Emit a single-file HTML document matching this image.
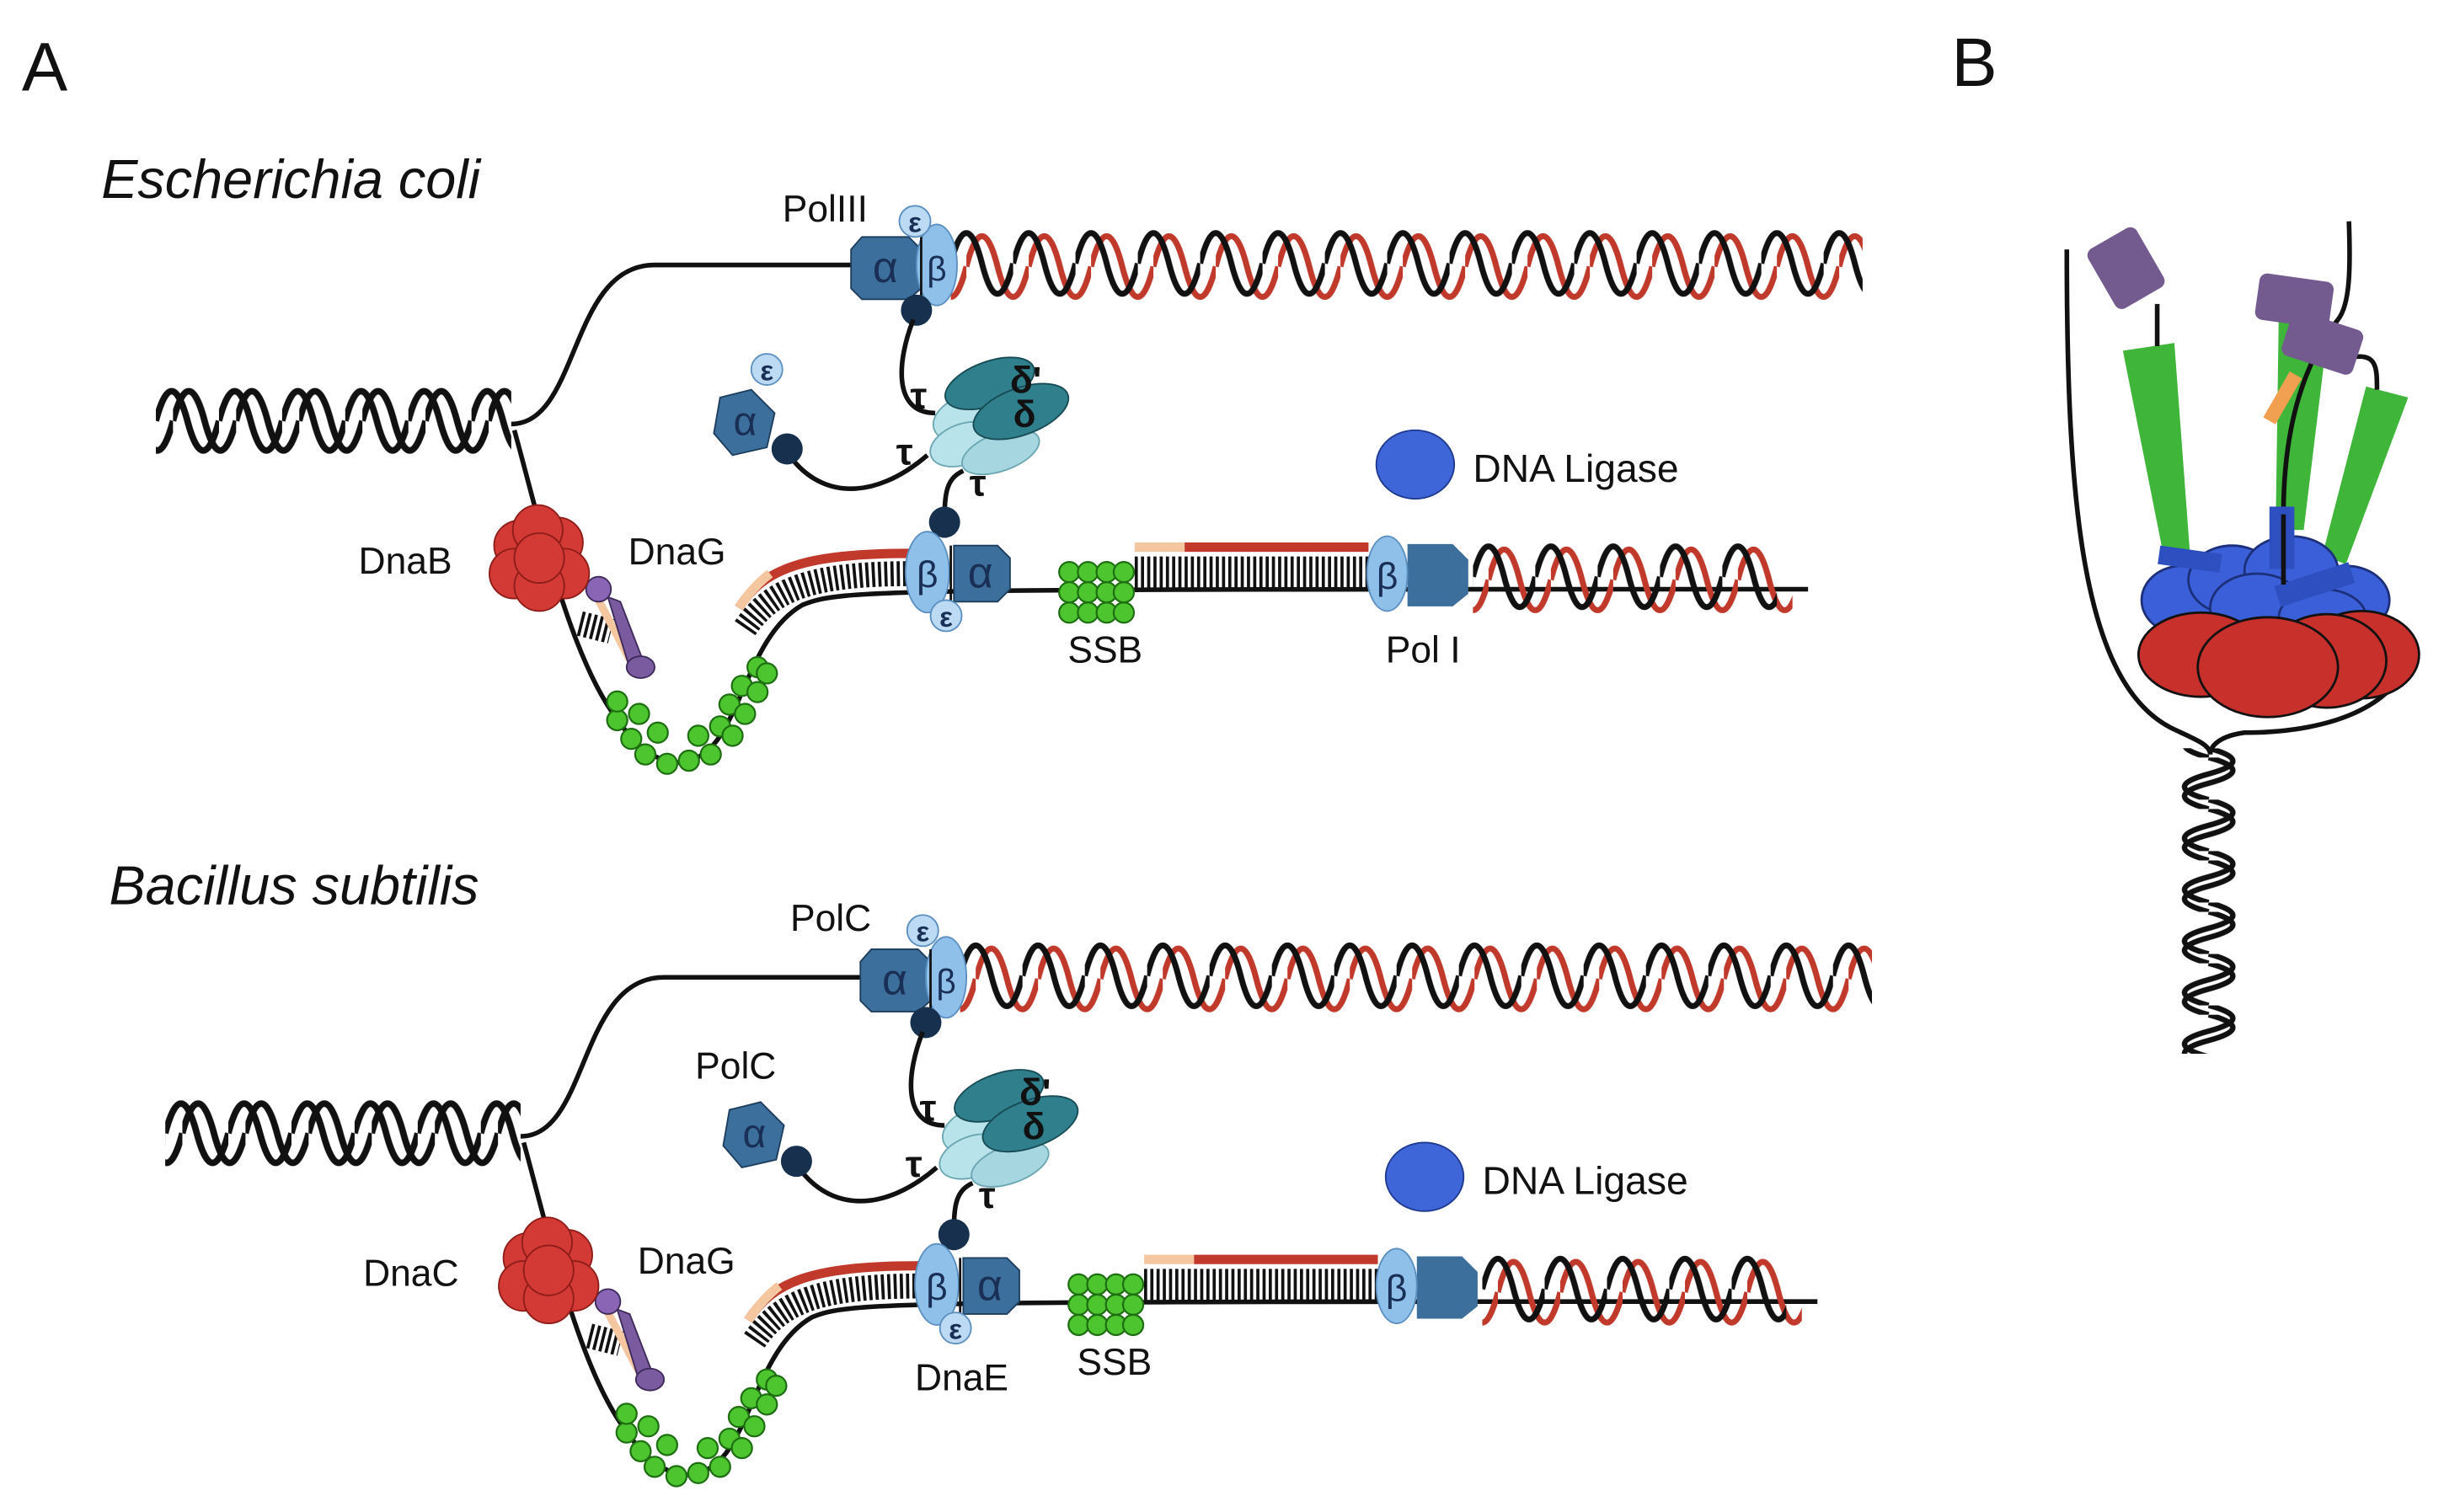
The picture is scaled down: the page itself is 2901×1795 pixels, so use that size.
<!DOCTYPE html>
<html><head><meta charset="utf-8"><style>html,body{margin:0;padding:0;background:#fff}svg{display:block}text{font-family:"Liberation Sans",sans-serif}</style></head>
<body>
<svg width="2901" height="1795" viewBox="0 0 1568 970" preserveAspectRatio="none" xmlns="http://www.w3.org/2000/svg">
<defs>
<pattern id="hb" patternUnits="userSpaceOnUse" width="40" height="48"><path d="M0 24 Q10 -15 20 24 Q30 63 40 24" fill="none" stroke="#111" stroke-width="3.8"/></pattern>
<pattern id="hr" patternUnits="userSpaceOnUse" width="40" height="48" x="10" y="2"><path d="M0 24 Q10 -15 20 24 Q30 63 40 24" fill="none" stroke="#c0392b" stroke-width="3.8"/></pattern>
<pattern id="p1" patternUnits="userSpaceOnUse" width="40.5" height="48"><path d="M0 24 Q10.1 -14 20.25 24 Q30.4 62 40.5 24" fill="none" stroke="#111" stroke-width="4.2"/></pattern>
<pattern id="p2" patternUnits="userSpaceOnUse" width="40.5" height="48" x="11"><path d="M0 24 Q10.1 -14 20.25 24 Q30.4 62 40.5 24" fill="none" stroke="#111" stroke-width="4.2"/></pattern>
<pattern id="v1" patternUnits="userSpaceOnUse" width="33" height="40"><path d="M0 20 Q8.25 -11 16.5 20 Q24.75 51 33 20" fill="none" stroke="#111" stroke-width="3.5"/></pattern>
<pattern id="v2" patternUnits="userSpaceOnUse" width="33" height="40" x="6"><path d="M0 20 Q8.25 -11 16.5 20 Q24.75 51 33 20" fill="none" stroke="#111" stroke-width="3.5"/></pattern>
<g id="ssb"><circle r="6.5" fill="#4cc52e" stroke="#1e6e12" stroke-width="1.2"/></g>
<g id="fork">
  <g transform="translate(100,246)"><rect width="228" height="48" fill="url(#p1)"/><rect width="228" height="48" fill="url(#p2)"/></g>
  <path d="M328 272 C372 272 365 170 420 170 L555 170" fill="none" stroke="#111" stroke-width="3"/>
  <g transform="translate(610,145)"><rect width="585" height="50" fill="url(#hr)"/><rect width="585" height="48" fill="url(#hb)"/></g>
  <path d="M330 276 C345 330 365 420 395 460 C415 490 440 500 460 475 C478 450 485 405 515 388 C540 378 560 378 1160 378" fill="none" stroke="#111" stroke-width="3"/>
  <path d="M478 403 C495 378 520 368 585 368" fill="none" stroke="#111" stroke-width="16" stroke-dasharray="2 2"/>
  <path d="M474 390 C490 365 515 355 585 355" fill="none" stroke="#c0392b" stroke-width="6"/>
  <path d="M474 390 C480 381 486 374 494 368" fill="none" stroke="#f5c7a0" stroke-width="6"/>
  <path d="M728 367 L878 367" stroke="#111" stroke-width="20" stroke-dasharray="2 2"/>
  <path d="M760 351 L878 351" stroke="#c0392b" stroke-width="6"/>
  <path d="M728 351 L760 351" stroke="#f5c7a0" stroke-width="6"/>
  <g transform="translate(945,346)"><rect width="205" height="50" fill="url(#hr)"/><rect width="195" height="48" fill="url(#hb)"/></g>
  <path d="M903 349 L932 349 L942 359 L942 381 L932 389 L903 389 Z" fill="#3c6f9b"/>
  <ellipse cx="890" cy="368" rx="13" ry="24" fill="#8ec0ea" stroke="#5b8fc0"/>
  <text x="890" y="378" font-size="24" text-anchor="middle" fill="#1a2f55">β</text>
  <use href="#ssb" x="686" y="367"/><use href="#ssb" x="698" y="367"/><use href="#ssb" x="710" y="367"/><use href="#ssb" x="721" y="367"/>
  <use href="#ssb" x="686" y="380"/><use href="#ssb" x="698" y="380"/><use href="#ssb" x="710" y="380"/><use href="#ssb" x="721" y="380"/>
  <use href="#ssb" x="686" y="393"/><use href="#ssb" x="698" y="393"/><use href="#ssb" x="710" y="393"/><use href="#ssb" x="721" y="393"/>
  <use href="#ssb" x="396" y="462"/><use href="#ssb" x="405" y="474"/><use href="#ssb" x="396" y="450"/><use href="#ssb" x="414" y="484"/><use href="#ssb" x="422" y="470"/><use href="#ssb" x="428" y="490"/><use href="#ssb" x="442" y="488"/><use href="#ssb" x="456" y="484"/><use href="#ssb" x="448" y="472"/><use href="#ssb" x="462" y="466"/><use href="#ssb" x="470" y="472"/><use href="#ssb" x="468" y="452"/><use href="#ssb" x="478" y="458"/><use href="#ssb" x="476" y="440"/><use href="#ssb" x="486" y="444"/><use href="#ssb" x="486" y="428"/><use href="#ssb" x="492" y="432"/><use href="#ssb" x="410" y="458"/>
  <path d="M372 400 L392 405" stroke="#111" stroke-width="16" stroke-dasharray="2 2"/>
  <path d="M384 385 L405 425" stroke="#f5c7a0" stroke-width="5"/>
  <path d="M390 383 L398 386 L413 425 L405 432 Z" fill="#7a5ba0" stroke="#3d2a5a"/>
  <circle cx="384" cy="378" r="8" fill="#8a65b5" stroke="#3d2a5a"/>
  <ellipse cx="411" cy="428" rx="9" ry="7" fill="#7a5ba0" stroke="#3d2a5a"/>
  <g fill="#d43a35" stroke="#8e1c18" stroke-width="1">
   <circle cx="333" cy="350" r="16"/><circle cx="358" cy="348" r="16"/><circle cx="345" cy="340" r="16"/><circle cx="330" cy="368" r="16"/><circle cx="362" cy="368" r="16"/><circle cx="346" cy="376" r="16"/><circle cx="346" cy="358" r="16"/>
  </g>
  <path d="M553 152 L583 152 L591 160 L591 185 L583 192 L553 192 L546 185 L546 160 Z" fill="#3c6f9b" stroke="#1d3d5c"/>
  <text x="568" y="181" font-size="28" text-anchor="middle" fill="#1a2f55">α</text>
  <ellipse cx="601" cy="170" rx="13" ry="26" fill="#8ec0ea" stroke="#5b8fc0"/>
  <text x="601" y="180" font-size="22" text-anchor="middle" fill="#1a2f55">β</text>
  <line x1="591" y1="152" x2="591" y2="192" stroke="#111" stroke-width="1.5"/>
  <circle cx="588" cy="199" r="10" fill="#16304d"/>
  <path d="M586 205 C576 230 572 265 600 265" fill="none" stroke="#111" stroke-width="3"/>
  <ellipse cx="620" cy="268" rx="22" ry="14" fill="#b8e3ea" stroke="#6aa7b2" transform="rotate(-20 620 268)"/>
  <ellipse cx="618" cy="285" rx="22" ry="13" fill="#b8e3ea" stroke="#6aa7b2" transform="rotate(-20 618 285)"/>
  <ellipse cx="642" cy="290" rx="26" ry="12" fill="#a6d6df" stroke="#6aa7b2" transform="rotate(-20 642 290)"/>
  <ellipse cx="635" cy="246" rx="30" ry="14" fill="#2f7f8c" stroke="#174b55" transform="rotate(-20 635 246)"/>
  <ellipse cx="655" cy="264" rx="32" ry="15" fill="#2f7f8c" stroke="#174b55" transform="rotate(-20 655 264)"/>
  <text x="648" y="252" font-size="24" font-weight="bold" fill="#111" font-family="Liberation Serif">δ'</text>
  <text x="650" y="274" font-size="24" font-weight="bold" fill="#111" font-family="Liberation Serif">δ</text>
  <text x="584" y="262" font-size="24" font-weight="bold" fill="#111" font-family="Liberation Serif">τ</text>
  <text x="575" y="298" font-size="24" font-weight="bold" fill="#111" font-family="Liberation Serif">τ</text>
  <text x="622" y="318" font-size="24" font-weight="bold" fill="#111" font-family="Liberation Serif">τ</text>
  <path d="M462 255 L482 250 L497 265 L492 287 L470 292 L458 278 Z" fill="#3c6f9b" stroke="#1d3d5c"/>
  <text x="478" y="279" font-size="26" text-anchor="middle" fill="#1a2f55">α</text>
  <path d="M505 290 C525 320 560 322 595 292" fill="none" stroke="#111" stroke-width="3"/>
  <circle cx="505" cy="288" r="10" fill="#16304d"/>
  <path d="M606 345 C606 320 605 308 618 302" fill="none" stroke="#111" stroke-width="3"/>
  <circle cx="606" cy="335" r="10" fill="#16304d"/>
  <path d="M612 350 L640 350 L648 358 L648 378 L640 386 L612 386 Z" fill="#3c6f9b" stroke="#1d3d5c"/>
  <text x="629" y="377" font-size="28" text-anchor="middle" fill="#1a2f55">α</text>
  <ellipse cx="595" cy="367" rx="14" ry="26" fill="#8ec0ea" stroke="#5b8fc0"/>
  <text x="595" y="377" font-size="24" text-anchor="middle" fill="#1a2f55">β</text>
  <line x1="610" y1="350" x2="610" y2="386" stroke="#111" stroke-width="1.5"/>
  <circle cx="607" cy="395" r="10" fill="#bcdaf3" stroke="#5b8fc0"/>
  <text x="607" y="402" font-size="18" text-anchor="middle" fill="#1a2f55" font-weight="bold">ε</text>
  <ellipse cx="908" cy="298" rx="25" ry="22" fill="#3e66d8" stroke="#1f3a90"/>
  <text x="945" y="309" font-size="25" fill="#111">DNA Ligase</text>
  <text x="685" y="425" font-size="24" fill="#111">SSB</text>
</g>
</defs>

<text x="14" y="58" font-size="44" fill="#111">A</text>
<text x="1252" y="55" font-size="44" fill="#111">B</text>

<text x="65" y="127" font-size="35" font-style="italic" fill="#111">Escherichia coli</text>
<use href="#fork"/>
<circle cx="587" cy="142" r="10" fill="#bcdaf3" stroke="#5b8fc0"/>
<text x="587" y="149" font-size="18" text-anchor="middle" fill="#1a2f55" font-weight="bold">ε</text>
<circle cx="492" cy="237" r="10" fill="#bcdaf3" stroke="#5b8fc0"/>
<text x="492" y="244" font-size="18" text-anchor="middle" fill="#1a2f55" font-weight="bold">ε</text>
<text x="502" y="142" font-size="24" fill="#111">PolIII</text>
<text x="230" y="368" font-size="24" fill="#111">DnaB</text>
<text x="403" y="362" font-size="24" fill="#111">DnaG</text>
<text x="889" y="425" font-size="24" fill="#111">Pol I</text>

<text x="70" y="580" font-size="35" font-style="italic" fill="#111">Bacillus subtilis</text>
<g transform="translate(6,457)"><use href="#fork"/></g>
<circle cx="592" cy="597" r="10" fill="#bcdaf3" stroke="#5b8fc0"/>
<text x="592" y="604" font-size="18" text-anchor="middle" fill="#1a2f55" font-weight="bold">ε</text>
<text x="507" y="597" font-size="24" fill="#111">PolC</text>
<text x="446" y="692" font-size="24" fill="#111">PolC</text>
<text x="233" y="825" font-size="24" fill="#111">DnaC</text>
<text x="409" y="817" font-size="24" fill="#111">DnaG</text>
<text x="587" y="892" font-size="24" fill="#111">DnaE</text>

<!-- Panel B -->
<path d="M1326 160 C1326 320 1335 440 1395 468 C1410 475 1418 478 1418 484" fill="none" stroke="#111" stroke-width="3"/>
<path d="M1507 142 C1508 170 1508 195 1500 205" fill="none" stroke="#111" stroke-width="3"/>
<path d="M1545 420 C1540 450 1500 470 1440 470 C1425 472 1418 478 1418 484" fill="none" stroke="#111" stroke-width="3"/>
<g transform="translate(1437,480) rotate(90)"><rect width="196" height="40" fill="url(#v1)"/><rect width="196" height="40" fill="url(#v2)"/></g>
<polygon points="1362,225 1395,220 1405,355 1388,356" fill="#3fb53a"/>
<polygon points="1462,200 1495,200 1478,340 1460,340" fill="#3fb53a"/>
<polygon points="1518,248 1545,255 1505,362 1490,356" fill="#3fb53a"/>
<rect x="1460" y="238" width="9" height="34" fill="#f0a050" transform="rotate(30 1464 255)"/>
<path d="M1500 205 C1480 230 1465 270 1465 330" fill="none" stroke="#111" stroke-width="3"/>
<path d="M1384 195 L1384 222" stroke="#111" stroke-width="3"/>
<path d="M1505 230 C1525 225 1525 235 1525 250" fill="none" stroke="#111" stroke-width="3"/>
<rect x="1346" y="150" width="36" height="44" rx="5" fill="#735a8f" transform="rotate(-30 1364 172)"/>
<rect x="1448" y="178" width="48" height="30" rx="5" fill="#735a8f" transform="rotate(8 1472 193)"/>
<rect x="1466" y="205" width="48" height="30" rx="5" fill="#735a8f" transform="rotate(18 1490 220)"/>
<g fill="#3a5fd8" stroke="#1c2f7a" stroke-width="1.5">
<ellipse cx="1400" cy="385" rx="26" ry="22"/><ellipse cx="1505" cy="385" rx="28" ry="22"/><ellipse cx="1432" cy="372" rx="28" ry="22"/><ellipse cx="1470" cy="366" rx="30" ry="22"/><ellipse cx="1448" cy="390" rx="30" ry="22"/><ellipse cx="1490" cy="396" rx="28" ry="18"/>
</g>
<rect x="1385" y="352" width="40" height="12" fill="#2d4fc0" transform="rotate(8 1400 358)"/>
<rect x="1460" y="368" width="50" height="14" fill="#2d4fc0" transform="rotate(-18 1485 375)"/>
<rect x="1456" y="325" width="16" height="40" fill="#2d4fc0"/>
<line x1="1465" y1="330" x2="1465" y2="375" stroke="#111" stroke-width="3"/>
<g fill="#c8302c" stroke="#111" stroke-width="1.5">
<ellipse cx="1412" cy="420" rx="40" ry="27"/><ellipse cx="1515" cy="420" rx="37" ry="28"/><ellipse cx="1493" cy="424" rx="38" ry="30"/><ellipse cx="1455" cy="428" rx="45" ry="32"/>
</g>
</svg>
</body></html>
